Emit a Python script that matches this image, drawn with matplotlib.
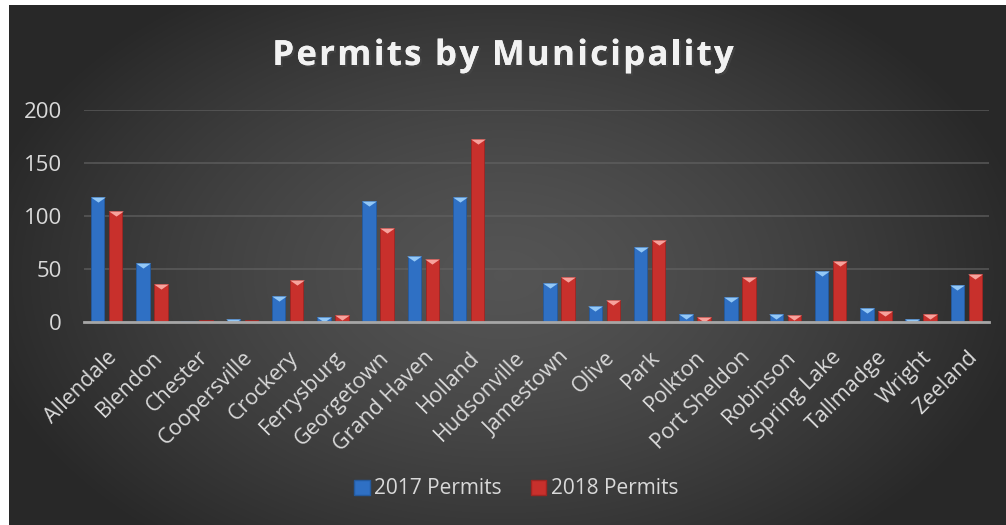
import numpy as np
import matplotlib
matplotlib.use("Agg")
from matplotlib import pyplot as plt
from matplotlib.path import Path
from matplotlib.patches import Patch, Rectangle
import matplotlib.patheffects as pe

towns = ["Allendale", "Blendon", "Chester", "Coopersville", "Crockery", "Ferrysburg",
         "Georgetown", "Grand Haven", "Holland", "Hudsonville", "Jamestown", "Olive",
         "Park", "Polkton", "Port Sheldon", "Robinson", "Spring Lake", "Tallmadge",
         "Wright", "Zeeland"]
permits_2017 = [118, 56, 1, 3, 25, 5, 114, 62, 118, 0, 37, 15, 71, 8, 24, 8, 48, 13, 3, 35]
permits_2018 = [105, 36, 2, 2, 40, 7, 89, 59, 173, 0, 42, 21, 77, 5, 42, 7, 58, 10, 8, 45]
y_ticks = [0, 50, 100, 150, 200]
title = "Permits by Municipality"

plt.rcParams["font.family"] = ["Open Sans", "DejaVu Sans"]
txt = "#d9d9d9"
blue, blue_hi = "#2f70c4", "#93c8f7"
red, red_hi = "#c8302c", "#f7a29c"

W, H = 1006, 525
fig = plt.figure(figsize=(W / 100, H / 100), dpi=100)
fig.patch.set_facecolor("#2a2a2a")

# background: dark radial gradient
gx, gy = np.meshgrid(np.linspace(-1, 1, 1006), np.linspace(-1, 1, 525))
r = np.sqrt((gx / 1.05) ** 2 + ((gy - 0.05) / 1.3) ** 2)
shade = 0.33 - 0.17 * np.clip(r, 0, 1) ** 1.4
fig.figimage(np.dstack([shade] * 3), xo=0, yo=0, zorder=-10)
# thin white border on the left and top
fig.patches.append(Rectangle((0, 0), 9, H, transform=None, facecolor="white",
                             edgecolor="none", zorder=-5))
fig.patches.append(Rectangle((0, H - 5), W, 5, transform=None, facecolor="white",
                             edgecolor="none", zorder=-5))

ax = fig.add_axes([84 / W, 1 - 322 / H, 905 / W, 212 / H])
ax.set_facecolor("none")
x = np.arange(len(towns))
w = 0.3
off = 0.2
ax.bar(x - off, permits_2017, width=w, color=blue, edgecolor="#245a9e", linewidth=0.6, zorder=3)
ax.bar(x + off, permits_2018, width=w, color=red, edgecolor="#9e2522", linewidth=0.6, zorder=3)

# bevel highlight at top of each bar
tri = Path([(-1, 0), (1, 0), (0, -0.7), (-1, 0)],
           [Path.MOVETO, Path.LINETO, Path.LINETO, Path.CLOSEPOLY])
v17 = np.array(permits_2017)
v18 = np.array(permits_2018)
ax.scatter((x - off)[v17 > 2], v17[v17 > 2], marker=tri, s=110, color=blue_hi,
           linewidths=0, zorder=4)
ax.scatter((x + off)[v18 > 2], v18[v18 > 2], marker=tri, s=110, color=red_hi,
           linewidths=0, zorder=4)

ax.set_xlim(-0.5, len(towns) - 0.5)
ax.set_ylim(0, 200)
ax.set_yticks(y_ticks)
ax.set_yticklabels([str(t) for t in y_ticks], fontsize=16, color=txt)
ax.set_xticks(x)
ax.set_xticklabels(towns, rotation=45, ha="right", rotation_mode="anchor",
                   fontsize=15.5, color=txt)
ax.tick_params(length=0)
ax.tick_params(axis="x", pad=18)
ax.tick_params(axis="y", pad=16)
ax.grid(axis="y", color="#626262", linewidth=1.2, alpha=0.75, zorder=0)
for s in ["top", "right", "left"]:
    ax.spines[s].set_visible(False)
ax.spines["bottom"].set_color("#a6a6a6")
ax.spines["bottom"].set_linewidth(2)
ax.spines["bottom"].set_zorder(5)

# title with letter spacing, placed char by char
renderer = fig.canvas.get_renderer()
tkw = dict(fontsize=25, fontweight="bold")


def text_w(s):
    t = fig.text(0, 0, s, **tkw)
    wpx = t.get_window_extent(renderer).width
    t.remove()
    return wpx


spacing = 2.3
bar_w = text_w("|")
lefts = [text_w(title[:i] + "|") - bar_w if i else 0.0 for i in range(len(title))]
total = text_w(title) + spacing * (len(title) - 1)
x0 = 503 - total / 2
shadow = [pe.withSimplePatchShadow(offset=(1.5, -1.5), alpha=0.6), pe.Normal()]
for i, ch in enumerate(title):
    if ch == " ":
        continue
    fig.text((x0 + lefts[i] + spacing * i) / W, 1 - 65 / H, ch, ha="left",
             va="baseline", color="#f2f2f2", path_effects=shadow, **tkw)

handles = [Patch(facecolor=blue, edgecolor="#245a9e"), Patch(facecolor=red, edgecolor="#9e2522")]
fig.legend(handles, ["2017 Permits", "2018 Permits"], loc="center",
           bbox_to_anchor=(0.513, 1 - 489 / H), ncol=2, frameon=False,
           fontsize=15, labelcolor=txt, handlelength=0.75, handleheight=0.75,
           handletextpad=0.2, columnspacing=1.4)

fig.savefig("out.png", dpi=100, facecolor=fig.get_facecolor())
